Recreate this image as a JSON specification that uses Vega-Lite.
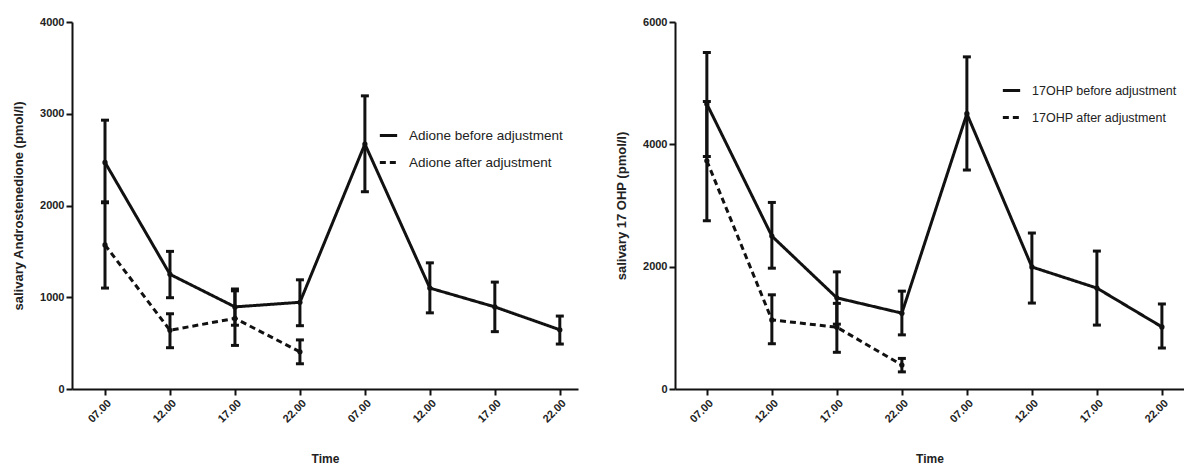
{
  "$schema": "https://vega.github.io/schema/vega-lite/v6.json",
  "padding": {"left": 12, "top": 16, "right": 0, "bottom": 0},
  "background": "white",
  "config": {
    "view": {"stroke": null},
    "font": "Liberation Sans",
    "axis": {
      "grid": false,
      "domainColor": "#111",
      "domainWidth": 2,
      "tickColor": "#111",
      "tickWidth": 2,
      "tickSize": 6,
      "labelFont": "Liberation Sans",
      "labelFontWeight": "bold",
      "labelFontSize": 11,
      "labelColor": "#222",
      "labelPadding": 2,
      "titleFont": "Liberation Sans",
      "titleColor": "#222"
    },
    "legend": {
      "orient": "none",
      "title": null,
      "symbolType": "stroke",
      "symbolStrokeColor": "#111",
      "symbolStrokeWidth": 3,
      "symbolSize": 300,
      "labelFont": "Liberation Sans",
      "labelFontSize": 13.5,
      "labelColor": "#222",
      "labelOffset": 10,
      "labelLimit": 400,
      "rowPadding": 10,
      "padding": 0
    }
  },
  "data": {
    "values": [
      {"panel": "A", "series": "Adione before adjustment", "slot": 0, "time": "07.00", "mean": 2470, "lo": 2030, "hi": 2930},
      {"panel": "A", "series": "Adione before adjustment", "slot": 1, "time": "12.00", "mean": 1250, "lo": 995, "hi": 1500},
      {"panel": "A", "series": "Adione before adjustment", "slot": 2, "time": "17.00", "mean": 895, "lo": 695, "hi": 1090},
      {"panel": "A", "series": "Adione before adjustment", "slot": 3, "time": "22.00", "mean": 945, "lo": 690, "hi": 1190},
      {"panel": "A", "series": "Adione before adjustment", "slot": 4, "time": "07.00", "mean": 2670, "lo": 2150, "hi": 3195},
      {"panel": "A", "series": "Adione before adjustment", "slot": 5, "time": "12.00", "mean": 1100, "lo": 830, "hi": 1375},
      {"panel": "A", "series": "Adione before adjustment", "slot": 6, "time": "17.00", "mean": 895, "lo": 625, "hi": 1165},
      {"panel": "A", "series": "Adione before adjustment", "slot": 7, "time": "22.00", "mean": 645, "lo": 490, "hi": 795},
      {"panel": "A", "series": "Adione after adjustment", "slot": 0, "time": "07.00", "mean": 1570, "lo": 1100, "hi": 2040},
      {"panel": "A", "series": "Adione after adjustment", "slot": 1, "time": "12.00", "mean": 640, "lo": 450, "hi": 820},
      {"panel": "A", "series": "Adione after adjustment", "slot": 2, "time": "17.00", "mean": 770, "lo": 475, "hi": 1070},
      {"panel": "A", "series": "Adione after adjustment", "slot": 3, "time": "22.00", "mean": 405, "lo": 275, "hi": 535},
      {"panel": "B", "series": "17OHP before adjustment", "slot": 0, "time": "07.00", "mean": 4660, "lo": 3800, "hi": 5500},
      {"panel": "B", "series": "17OHP before adjustment", "slot": 1, "time": "12.00", "mean": 2500, "lo": 1975, "hi": 3050},
      {"panel": "B", "series": "17OHP before adjustment", "slot": 2, "time": "17.00", "mean": 1490, "lo": 1060, "hi": 1915},
      {"panel": "B", "series": "17OHP before adjustment", "slot": 3, "time": "22.00", "mean": 1240, "lo": 885, "hi": 1600},
      {"panel": "B", "series": "17OHP before adjustment", "slot": 4, "time": "07.00", "mean": 4500, "lo": 3580, "hi": 5430},
      {"panel": "B", "series": "17OHP before adjustment", "slot": 5, "time": "12.00", "mean": 1995, "lo": 1405, "hi": 2550},
      {"panel": "B", "series": "17OHP before adjustment", "slot": 6, "time": "17.00", "mean": 1650, "lo": 1045, "hi": 2255},
      {"panel": "B", "series": "17OHP before adjustment", "slot": 7, "time": "22.00", "mean": 1015, "lo": 670, "hi": 1390},
      {"panel": "B", "series": "17OHP after adjustment", "slot": 0, "time": "07.00", "mean": 3730, "lo": 2750, "hi": 4700},
      {"panel": "B", "series": "17OHP after adjustment", "slot": 1, "time": "12.00", "mean": 1130, "lo": 740, "hi": 1540},
      {"panel": "B", "series": "17OHP after adjustment", "slot": 2, "time": "17.00", "mean": 1010, "lo": 600, "hi": 1400},
      {"panel": "B", "series": "17OHP after adjustment", "slot": 3, "time": "22.00", "mean": 392, "lo": 280, "hi": 500}
    ]
  },
  "spacing": 37,
  "resolve": {"legend": {"strokeDash": "independent"}, "scale": {"strokeDash": "independent"}},
  "hconcat": [
    {
      "width": 506,
      "height": 367,
      "transform": [{"filter": "datum.panel === 'A'"}],
      "encoding": {
        "x": {
          "field": "slot", "type": "quantitative",
          "scale": {"domain": [-0.508, 7.28], "nice": false, "zero": false},
          "axis": {
            "values": [0, 1, 2, 3, 4, 5, 6, 7],
            "labelExpr": "['07.00','12.00','17.00','22.00','07.00','12.00','17.00','22.00'][datum.value]",
            "labelAngle": -45,
            "title": "Time",
            "titleFontSize": 12,
            "titleFontWeight": "bold",
            "titlePadding": 29
          }
        }
      },
      "layer": [
        {
          "mark": {"type": "errorbar", "ticks": {"size": 8, "thickness": 3, "color": "#111", "opacity": 1}, "thickness": 3, "color": "#111", "opacity": 1},
          "encoding": {
            "y": {"field": "lo", "type": "quantitative", "scale": {"domain": [0, 4000], "nice": false},
              "axis": {"values": [0, 1000, 2000, 3000, 4000], "format": "d", "title": "salivary Androstenedione (pmol/l)", "titleFontSize": 13, "titleFontWeight": "bold", "titlePadding": 14}},
            "y2": {"field": "hi"},
            "detail": {"field": "series"}
          }
        },
        {
          "mark": {"type": "line", "strokeWidth": 3, "color": "#111"},
          "encoding": {
            "y": {"field": "mean", "type": "quantitative"},
            "strokeDash": {
              "field": "series", "type": "nominal",
              "scale": {"domain": ["Adione before adjustment", "Adione after adjustment"], "range": [[1, 0], [6, 4]]},
              "legend": {"legendX": 306, "legendY": 103}
            }
          }
        },
        {
          "mark": {"type": "point", "filled": true, "size": 28, "color": "#111", "opacity": 1},
          "encoding": {
            "y": {"field": "mean", "type": "quantitative"},
            "detail": {"field": "series"}
          }
        }
      ]
    },
    {
      "width": 509,
      "height": 367,
      "transform": [{"filter": "datum.panel === 'B'"}],
      "encoding": {
        "x": {
          "field": "slot", "type": "quantitative",
          "scale": {"domain": [-0.49, 7.34], "nice": false, "zero": false},
          "axis": {
            "values": [0, 1, 2, 3, 4, 5, 6, 7],
            "labelExpr": "['07.00','12.00','17.00','22.00','07.00','12.00','17.00','22.00'][datum.value]",
            "labelAngle": -45,
            "title": "Time",
            "titleFontSize": 12,
            "titleFontWeight": "bold",
            "titlePadding": 29
          }
        }
      },
      "layer": [
        {
          "mark": {"type": "errorbar", "ticks": {"size": 8, "thickness": 3, "color": "#111", "opacity": 1}, "thickness": 3, "color": "#111", "opacity": 1},
          "encoding": {
            "y": {"field": "lo", "type": "quantitative", "scale": {"domain": [0, 6000], "nice": false},
              "axis": {"values": [0, 2000, 4000, 6000], "format": "d", "title": "salivary 17 OHP (pmol/l)", "titleFontSize": 13, "titleFontWeight": "bold", "titlePadding": 14}},
            "y2": {"field": "hi"},
            "detail": {"field": "series"}
          }
        },
        {
          "mark": {"type": "line", "strokeWidth": 3, "color": "#111"},
          "encoding": {
            "y": {"field": "mean", "type": "quantitative"},
            "strokeDash": {
              "field": "series", "type": "nominal",
              "scale": {"domain": ["17OHP before adjustment", "17OHP after adjustment"], "range": [[1, 0], [6, 4]]},
              "legend": {"legendX": 326, "legendY": 58, "labelFontSize": 12.5}
            }
          }
        },
        {
          "mark": {"type": "point", "filled": true, "size": 28, "color": "#111", "opacity": 1},
          "encoding": {
            "y": {"field": "mean", "type": "quantitative"},
            "detail": {"field": "series"}
          }
        }
      ]
    }
  ]
}
